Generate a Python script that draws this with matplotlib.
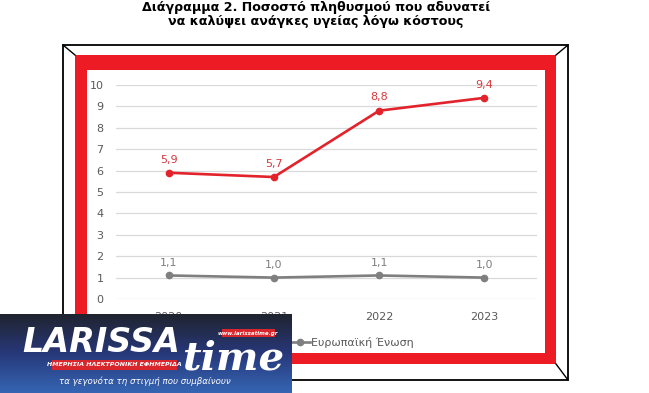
import numpy as np
import matplotlib
matplotlib.use("Agg")
import matplotlib.pyplot as plt
from matplotlib.patches import Rectangle
from matplotlib.colors import LinearSegmentedColormap

# data
years = ["2020", "2021", "2022", "2023"]
greece = [5.9, 5.7, 8.8, 9.4]
eu = [1.1, 1.0, 1.1, 1.0]
series_names = ["Ελλάδα", "Ευρωπαϊκή Ένωση"]
y_ticks = list(range(0, 11))

title_lines = ["Διάγραμμα 2. Ποσοστό πληθυσμού που αδυνατεί",
               "να καλύψει ανάγκες υγείας λόγω κόστους"]

RED = "#E3232B"
GRAY = "#7F7F7F"
TXT = "#595959"

W, H = 649, 393
fig = plt.figure(figsize=(W / 100, H / 100), dpi=100)
fig.patch.set_facecolor("white")


# axes covering the whole figure, in pixel coordinates
def pixel_axes(z):
    a = fig.add_axes([0, 0, 1, 1], zorder=z)
    a.set_xlim(0, W)
    a.set_ylim(H, 0)
    a.axis("off")
    a.patch.set_alpha(0)
    return a


bg = pixel_axes(0)

# title
bg.text(316, 8, title_lines[0], ha="center", va="center", fontsize=9.1,
        fontweight="bold", color="black")
bg.text(316, 22, title_lines[1], ha="center", va="center", fontsize=9.1,
        fontweight="bold", color="black")

# frame
bg.add_patch(Rectangle((63, 45), 505, 335, fill=False, ec="black", lw=1.3))
bg.add_patch(Rectangle((75, 55), 481, 309, fc="#ED1C24", ec="none"))
bg.add_patch(Rectangle((87, 70), 458, 283, fc="white", ec="none"))
for x0, y0, x1, y1 in [(63, 45, 75, 55), (568, 45, 556, 55),
                       (568, 380, 556, 364), (63, 380, 75, 364)]:
    bg.plot([x0, x1], [y0, y1], color="black", lw=1)

# chart
ax = fig.add_axes([116 / W, 1 - 299 / H, (537 - 116) / W, (299 - 85) / H], zorder=2)
ax.patch.set_alpha(0)
x = np.arange(len(years))
ax.plot(x, greece, color=RED, lw=1.9, marker="o", ms=4.5, label=series_names[0])
ax.plot(x, eu, color=GRAY, lw=1.9, marker="o", ms=4.5, label=series_names[1])

for i, v in enumerate(greece):
    ax.annotate(f"{v:.1f}".replace(".", ","), (i, v), xytext=(0, 9.5),
                textcoords="offset points", ha="center", va="center",
                color="#D63A3F", fontsize=8)
for i, v in enumerate(eu):
    ax.annotate(f"{v:.1f}".replace(".", ","), (i, v), xytext=(0, 9),
                textcoords="offset points", ha="center", va="center",
                color=GRAY, fontsize=8)

ax.set_xlim(-0.5, len(years) - 0.5)
ax.set_ylim(0, 10)
ax.set_yticks(y_ticks)
ax.set_xticks(x)
ax.set_xticklabels(years)
ax.grid(axis="y", color="#D9D9D9", lw=0.9)
ax.set_axisbelow(True)
for s in ax.spines.values():
    s.set_visible(False)
ax.tick_params(length=0, labelsize=8, colors=TXT)
ax.tick_params(axis="y", pad=9)
ax.tick_params(axis="x", pad=9)

ax.legend(loc="center right", bbox_to_anchor=(414, 342), bbox_transform=bg.transData,
          ncol=2, frameon=False, fontsize=8, labelcolor=TXT, handlelength=1.8,
          handletextpad=0.1, columnspacing=1.2, borderaxespad=0, borderpad=0)

# logo overlay
top = pixel_axes(10)
cmap = LinearSegmentedColormap.from_list("logo", ["#20242F", "#27387A", "#3565B3"])
top.imshow(np.linspace(0, 1, 100).reshape(-1, 1), extent=(0, 292, 393, 314),
           cmap=cmap, aspect="auto", origin="upper")
top.set_xlim(0, W)
top.set_ylim(H, 0)
top.text(22, 352, "LARISSA", color="white", fontsize=24, fontweight="bold",
         style="italic", ha="left", va="baseline")
top.text(182, 370, "time", color="white", fontsize=29, style="italic",
         fontweight="bold", family="DejaVu Serif", ha="left", va="baseline")
top.add_patch(Rectangle((52, 360), 125, 10, fc="#D7262C", ec="none"))
top.text(114, 365, "ΗΜΕΡΗΣΙΑ ΗΛΕΚΤΡΟΝΙΚΗ ΕΦΗΜΕΡΙΔΑ", color="white", fontsize=4.5,
         fontweight="bold", style="italic", ha="center", va="center")
top.add_patch(Rectangle((222, 329), 53, 8, fc="#D7262C", ec="none"))
top.text(248, 333, "www.larissatime.gr", color="white", fontsize=4,
         fontweight="bold", style="italic", ha="center", va="center")
top.text(145, 381, "τα γεγονότα τη στιγμή που συμβαίνουν", color="white",
         fontsize=6.2, style="italic", ha="center", va="center")

fig.savefig("out.png", dpi=100)
